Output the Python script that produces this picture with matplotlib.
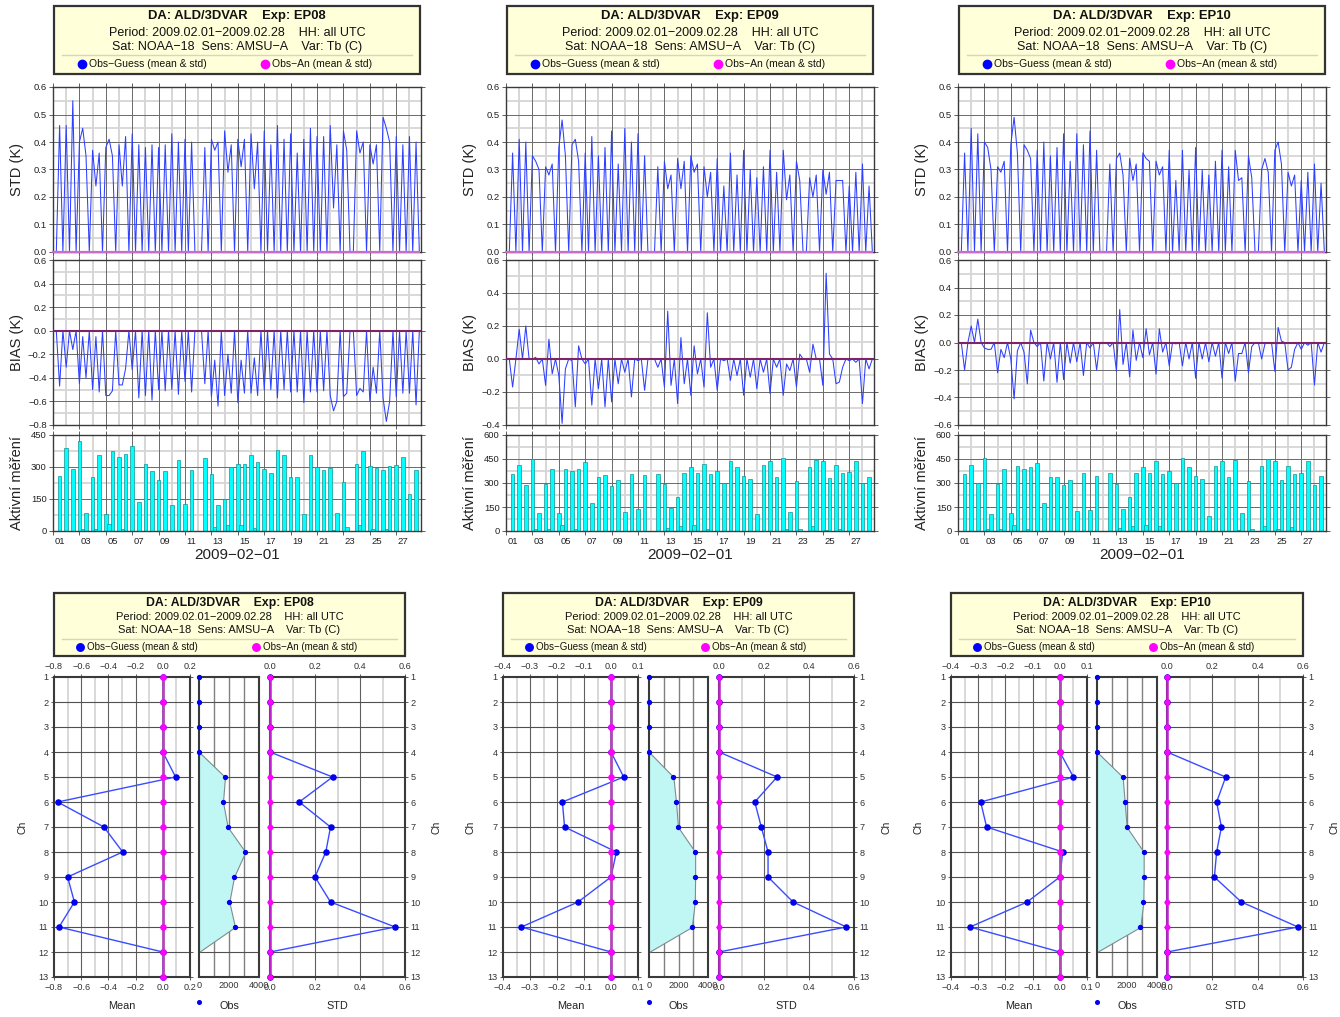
import numpy as np
import matplotlib
matplotlib.use('Agg')
import matplotlib.pyplot as plt
from matplotlib.patches import Rectangle
from matplotlib.lines import Line2D
from matplotlib.ticker import FuncFormatter

plt.rcParams['font.family'] = ['Liberation Sans', 'DejaVu Sans']

# ---------------------------------------------------------------- data
EXPERIMENTS = ['EP08', 'EP09', 'EP10']
# 6-hourly slots counted from 2009-02-01 00 UTC
MAIN_SLOTS = list(range(0, 112, 2))
OFF_SLOTS = [9, 13, 17, 21, 49, 53, 57, 61, 85, 89, 93, 97, 101]
DAY_LABELS = ['01', '03', '05', '07', '09', '11', '13', '15', '17', '19', '21', '23', '25', '27']

ep08_obs_main = [0, 260, 390, 290, 420, 85, 255, 355, 80, 375, 345,
                 360, 400, 135, 315, 280, 240, 280, 120, 335, 125, 285, 0,
                 340, 265, 120, 150, 300, 315, 315, 355, 325, 290,
                 270, 380, 355, 255, 255, 80, 355, 300, 285, 295, 85, 230, 0,
                 315, 375, 305, 295, 285, 305, 310, 345, 175, 285]
ep08_obs_off = [10, 10, 35, 10, 20, 30, 30, 15, 5, 20, 30, 10, 10]
ep08_std_main = [0, .46, .46, .55, .40, .35, .37, .36, .38, .35, .39,
                 .42, .43, .39, .38, .39, .38, .39, .43, .40, .41, .40, 0,
                 .38, .41, .40, .44, .39, .41, .41, .43, .40, .44,
                 .39, .46, .41, .43, .36, .41, .45, .42, .42, .46, .39, .44, 0,
                 .44, .40, .39, .39, .49, .40, .42, .39, .42, .40]
ep08_std_off = [.45, .24, .41, .24, .37, .29, .31, .23, .16, .37, .36, .32, .45]
ep08_bias_main = [0, -.47, -.31, -.16, -.45, -.40, -.50, -.52, -.55, -.51, -.46,
                  -.32, -.33, -.57, -.55, -.59, -.50, -.51, -.50, -.54, -.43, -.52, 0,
                  -.45, -.56, -.64, -.55, -.53, -.61, -.53, -.53, -.55, -.50,
                  -.50, -.57, -.50, -.52, -.52, -.61, -.52, -.52, -.51, -.55, -.60, -.56, 0,
                  -.55, -.52, -.60, -.53, -.57, -.60, -.56, -.53, -.53, -.63]
ep08_bias_off = [-.05, -.05, -.55, -.46, -.25, -.20, -.25, -.23, -.68, -.53, -.49, -.31, -.77]

ep09_obs_main = [0, 355, 410, 285, 450, 110, 295, 385, 115, 385, 375,
                 385, 430, 175, 340, 350, 280, 320, 120, 355, 140, 350, 0,
                 355, 295, 145, 215, 360, 400, 365, 420, 355, 375,
                 300, 440, 400, 345, 325, 105, 415, 435, 335, 455, 120, 310, 0,
                 400, 445, 435, 330, 410, 360, 370, 435, 300, 340]
ep09_obs_off = [10, 15, 35, 10, 20, 30, 35, 10, 10, 15, 30, 5, 15]
ep09_std_main = [0, .36, .41, .40, .35, .30, .31, .32, .38, .35, .39,
                 .33, .36, .42, .35, .38, .44, .32, .45, .40, .43, .35, 0,
                 .31, .33, .28, .34, .33, .35, .32, .31, .29, .34,
                 .24, .36, .28, .37, .30, .27, .31, .37, .29, .37, .28, .33, 0,
                 .27, .28, .30, .29, .26, .26, .24, .29, .32, .24]
ep09_std_off = [.33, .28, .48, .41, .23, .23, .29, .20, .19, .26, .20, .21, .26]
ep09_bias_main = [0, -.17, .18, .20, .00, -.03, -.16, -.09, -.10, -.06, -.01,
                  .08, -.03, -.28, -.18, -.29, -.26, -.15, -.08, -.23, -.01, -.19, 0,
                  -.05, -.17, -.16, -.27, -.15, -.22, -.09, -.17, -.05, -.19,
                  -.01, -.13, -.10, -.22, -.11, -.18, -.08, -.21, -.05, -.22, -.07, -.17, 0,
                  -.08, .00, -.16, .03, -.15, -.05, -.01, -.02, -.27, -.06]
ep09_bias_off = [.01, .12, -.39, -.29, .29, .13, .08, .28, -.03, .03, .09, .52, -.14]

ep10_obs_main = [0, 355, 410, 300, 455, 105, 295, 385, 115, 405, 385,
                 400, 425, 175, 340, 340, 285, 320, 125, 360, 130, 345, 0,
                 365, 295, 135, 210, 365, 400, 360, 435, 355, 375,
                 300, 455, 400, 345, 325, 95, 405, 435, 335, 445, 110, 310, 0,
                 405, 450, 435, 320, 405, 355, 365, 435, 290, 345]
ep10_obs_off = [10, 15, 35, 10, 20, 30, 35, 30, 5, 15, 30, 15, 25]
ep10_std_main = [0, .36, .45, .43, .40, .30, .31, .33, .39, .36, .39,
                 .34, .37, .40, .35, .38, .43, .33, .43, .39, .44, .37, 0,
                 .32, .34, .28, .34, .32, .36, .33, .33, .31, .37,
                 .26, .37, .30, .38, .30, .28, .33, .37, .31, .37, .27, .35, 0,
                 .30, .29, .37, .32, .29, .28, .26, .29, .32, .25]
ep10_std_off = [.38, .29, .49, .37, .36, .26, .34, .28, .26, .27, .34, .40, .24]
ep10_bias_main = [0, -.20, .12, .17, -.04, -.05, -.22, -.11, -.12, -.06, -.07,
                  .09, -.03, -.28, -.12, -.29, -.27, -.15, -.14, -.24, -.04, -.20, 0,
                  -.03, -.21, -.16, -.25, -.13, -.11, -.09, -.23, -.07, -.17,
                  -.01, -.17, -.12, -.26, -.12, -.14, -.10, -.26, -.08, -.28, -.08, -.22, 0,
                  -.12, .00, -.21, .01, -.20, -.05, -.05, -.02, -.31, -.07]
ep10_bias_off = [-.05, -.05, -.41, -.30, .24, .09, .10, .10, -.08, -.03, -.01, .11, -.18]

CHANNELS = list(range(1, 14))
ep08_mean_og = [0, 0, 0, 0, 0.094, -0.773, -0.433, -0.295, -0.700, -0.650, -0.763, 0, 0]
ep08_std_og = [0, 0, 0, 0, 0.278, 0.130, 0.269, 0.248, 0.200, 0.269, 0.556, 0, 0]
ep08_nobs = [0, 0, 0, 0, 1733, 1600, 1911, 3089, 2333, 2022, 2400, 0, 0]
ep09_mean_og = [0, 0, 0, 0, 0.047, -0.180, -0.172, 0.020, 0.000, -0.122, -0.332, 0, 0]
ep09_std_og = [0, 0, 0, 0, 0.258, 0.159, 0.188, 0.218, 0.218, 0.329, 0.566, 0, 0]
ep09_nobs = [0, 0, 0, 0, 1654, 1832, 1966, 3128, 3128, 3106, 2905, 0, 0]
ep10_mean_og = [0, 0, 0, 0, 0.050, -0.291, -0.269, 0.011, 0.000, -0.120, -0.330, 0, 0]
ep10_std_og = [0, 0, 0, 0, 0.259, 0.219, 0.240, 0.219, 0.209, 0.328, 0.578, 0, 0]
ep10_nobs = [0, 0, 0, 0, 1711, 1844, 1978, 3111, 3111, 3089, 2889, 0, 0]
mean_oa = [0.0] * 13
std_oa = [0.0] * 13

DATA = {
    'EP08': dict(obs=(ep08_obs_main, ep08_obs_off), std=(ep08_std_main, ep08_std_off),
                 bias=(ep08_bias_main, ep08_bias_off), mean_og=ep08_mean_og,
                 std_og=ep08_std_og, nobs=ep08_nobs),
    'EP09': dict(obs=(ep09_obs_main, ep09_obs_off), std=(ep09_std_main, ep09_std_off),
                 bias=(ep09_bias_main, ep09_bias_off), mean_og=ep09_mean_og,
                 std_og=ep09_std_og, nobs=ep09_nobs),
    'EP10': dict(obs=(ep10_obs_main, ep10_obs_off), std=(ep10_std_main, ep10_std_off),
                 bias=(ep10_bias_main, ep10_bias_off), mean_og=ep10_mean_og,
                 std_og=ep10_std_og, nobs=ep10_nobs),
}
BIAS_YLIM = {'EP08': (-0.8, 0.6), 'EP09': (-0.4, 0.6), 'EP10': (-0.6, 0.6)}
BAR_YLIM = {'EP08': 450, 'EP09': 600, 'EP10': 600}
MEAN_XLIM = {'EP08': (-0.8, 0.2, 0.2, 0.1), 'EP09': (-0.4, 0.1, 0.1, 0.05),
             'EP10': (-0.4, 0.1, 0.1, 0.05)}

# ---------------------------------------------------------------- layout
W, H = 1340, 1017
fig = plt.figure(figsize=(W / 100, H / 100), dpi=100)
fig.patch.set_facecolor('white')


def fx(x):
    return x / W


def fy(y):
    return 1 - y / H


def ax_px(x0, y0, x1, y1):
    return fig.add_axes([x0 / W, 1 - y1 / H, (x1 - x0) / W, (y1 - y0) / H])


def mfmt(fmt):
    def f(v, pos=None):
        s = fmt % v
        if s.startswith('-') and abs(float(s)) == 0:
            s = s[1:]
        return s.replace('-', '\u2212')
    return FuncFormatter(f)


DARK = '#6a6a6a'
LIGHT = '#d6d6d6'
SPINE = '#3a3a3a'
BLUE_LINE = '#2d3fff'
MINUS = '\u2212'


def style_spines(ax, lw=1.0):
    for s in ax.spines.values():
        s.set_color(SPINE)
        s.set_linewidth(lw)


def header(x0, x1, y0, y1, exp, ys, sizes, dots):
    rect = Rectangle((fx(x0), fy(y1)), (x1 - x0) / W, (y1 - y0) / H,
                     transform=fig.transFigure, facecolor='#ffffd9',
                     edgecolor='#333333', lw=1.6, zorder=1)
    fig.patches.append(rect)
    cx = (x0 + x1) / 2
    fig.text(fx(cx), fy(ys[0]), f'DA: ALD/3DVAR    Exp: {exp}', ha='center', va='center',
             fontsize=sizes[0], weight='bold', color='#111111')
    fig.text(fx(cx), fy(ys[1]), f'Period: 2009.02.01{MINUS}2009.02.28    HH: all UTC',
             ha='center', va='center', fontsize=sizes[1], color='#111111')
    fig.text(fx(cx), fy(ys[2]), f'Sat: NOAA{MINUS}18  Sens: AMSU{MINUS}A    Var: Tb (C)',
             ha='center', va='center', fontsize=sizes[1], color='#111111')
    fig.lines.append(Line2D([fx(x0 + 8), fx(x1 - 8)], [fy(ys[3])] * 2,
                            transform=fig.transFigure, color='#d6d6b8', lw=1.0))
    for dx, col, lab in [(dots[0], '#0000ff', f'Obs{MINUS}Guess (mean & std)'),
                         (dots[1], '#ff00ff', f'Obs{MINUS}An (mean & std)')]:
        fig.lines.append(Line2D([fx(x0 + dx)], [fy(ys[4])], transform=fig.transFigure,
                                marker='o', ms=sizes[3], color=col, ls='none'))
        fig.text(fx(x0 + dx + 7), fy(ys[4]), lab, ha='left', va='center',
                 fontsize=sizes[2], color='#111111')


def ts_grid(ax, lo, hi, major, minor):
    for d in range(0, 28):
        if d % 2 == 0:
            ax.axvline(d, color=DARK, lw=0.7, zorder=0.6)
        else:
            ax.axvline(d, color=LIGHT, lw=1.4, zorder=0.5)
    n = int(round((hi - lo) / minor))
    for i in range(n + 1):
        v = lo + i * minor
        if abs(v / major - round(v / major)) < 1e-6:
            ax.axhline(v, color=DARK, lw=0.7, zorder=0.6)
        else:
            ax.axhline(v, color=LIGHT, lw=1.3, zorder=0.5)


TOP_COLS = {'EP08': (53, 421), 'EP09': (506, 874), 'EP10': (958, 1326)}
STD_Y = (87, 252)
BIAS_Y = (260, 425)
BAR_Y = (435, 531)
XMAX = 27.875
t = np.arange(112) / 4.0


def series(main, off):
    a = np.zeros(112)
    a[MAIN_SLOTS] = main
    a[OFF_SLOTS] = off
    return a


for exp in EXPERIMENTS:
    x0, x1 = TOP_COLS[exp]
    d = DATA[exp]
    header(x0 + 1, x1 - 1, 5.5, 74, exp, (16.5, 32.5, 47, 54.5, 64), (9.4, 9.0, 7.5, 6.0),
           (28, 211))
    std = series(*d['std'])
    bias = series(*d['bias'])
    obs = series(*d['obs'])

    # STD panel
    ax = ax_px(x0, STD_Y[0], x1, STD_Y[1])
    ts_grid(ax, 0, 0.6, 0.1, 0.05)
    ax.plot(t, std, color=BLUE_LINE, lw=0.75, zorder=2)
    ax.plot(t, np.zeros_like(t), color='#c86ec8', lw=1.6, zorder=3, clip_on=False)
    ax.set_ylim(0, 0.6)
    ax.set_yticks(np.arange(0, 0.61, 0.1))
    ax.yaxis.set_major_formatter(mfmt('%.1f'))
    # BIAS panel
    axb = ax_px(x0, BIAS_Y[0], x1, BIAS_Y[1])
    lo, hi = BIAS_YLIM[exp]
    ts_grid(axb, lo, hi, 0.2, 0.1)
    axb.plot(t, bias, color=BLUE_LINE, lw=0.75, zorder=2)
    axb.axhline(0, color='#7c2466', lw=1.5, zorder=3)
    axb.set_ylim(lo, hi)
    axb.set_yticks(np.arange(lo, hi + 0.01, 0.2))
    axb.yaxis.set_major_formatter(mfmt('%.1f'))
    # bars panel
    axc = ax_px(x0, BAR_Y[0], x1, BAR_Y[1])
    top = BAR_YLIM[exp]
    ts_grid(axc, 0, top, 150, 75)
    m = obs > 0
    axc.bar(t[m], obs[m], width=0.27, color='#00ffff', edgecolor='#1a8f8f', lw=0.5,
            zorder=2, align='center')
    axc.set_ylim(0, top)
    axc.set_yticks(np.arange(0, top + 1, 150))
    axc.yaxis.set_major_formatter(mfmt('%d'))
    axc.set_xticks(np.arange(0.5, 27, 2), minor=True)
    axc.set_xticklabels(DAY_LABELS, minor=True)
    axc.tick_params(axis='x', which='minor', length=0, labelsize=6.8, pad=4,
                    labelcolor='#222222')

    for a in (ax, axb, axc):
        a.set_xlim(0, XMAX)
        a.set_xticks(np.arange(0, 28, 2))
        a.set_xticklabels([])
        a.tick_params(axis='both', which='major', direction='out', length=3, width=0.6,
                      color='#444444', labelsize=6.8, labelcolor='#222222',
                      top=True, right=True, pad=1.5)
        style_spines(a, 1.0)

    yl = x0 - 36
    fig.text(fx(yl), fy(sum(STD_Y) / 2), 'STD (K)', rotation=90, ha='center', va='center',
             fontsize=10.5, color='#222222')
    fig.text(fx(yl), fy(sum(BIAS_Y) / 2), 'BIAS (K)', rotation=90, ha='center', va='center',
             fontsize=10.5, color='#222222')
    fig.text(fx(yl), fy(sum(BAR_Y) / 2), 'Aktivní měření', rotation=90, ha='center',
             va='center', fontsize=10.5, color='#222222')
    fig.text(fx((x0 + x1) / 2), fy(555), f'2009{MINUS}02{MINUS}01', ha='center', va='center',
             fontsize=11, color='#222222')

# ---------------------------------------------------------------- channel profiles
BOT_Y = (677, 977)
BOT_COLS = {
    'EP08': dict(mean=(54, 190), obs=(199, 259), std=(270, 405), head=(54, 405)),
    'EP09': dict(mean=(503, 638), obs=(649, 708), std=(719, 854), head=(503, 854)),
    'EP10': dict(mean=(951, 1087), obs=(1097, 1157), std=(1167, 1303), head=(951, 1303)),
}
CH = np.array(CHANNELS)


def ch_grid(ax, lo, hi, major, minor):
    n = int(round((hi - lo) / minor))
    for i in range(1, n):
        v = lo + i * minor
        if abs(v / major - round(v / major)) < 1e-6:
            ax.axvline(v, color='#606060', lw=0.8, zorder=0.6)
        else:
            ax.axvline(v, color=LIGHT, lw=1.3, zorder=0.5)
    for c in range(2, 13):
        ax.axhline(c, color='#505050', lw=0.8, zorder=0.6)


def ch_axes_common(ax):
    ax.set_ylim(13, 1)
    ax.set_yticks(CHANNELS)
    style_spines(ax, 1.5)


for exp in EXPERIMENTS:
    c = BOT_COLS[exp]
    d = DATA[exp]
    hx0, hx1 = c['head']
    header(hx0, hx1, 593, 656, exp, (603, 616.5, 630, 638.5, 646.5), (8.8, 8.0, 7.0, 5.4),
           (26, 202))
    # mean panel
    lo, hi, maj, mnr = MEAN_XLIM[exp]
    ax = ax_px(c['mean'][0], BOT_Y[0], c['mean'][1], BOT_Y[1])
    ch_grid(ax, lo, hi, maj, mnr)
    ax.plot(d['mean_og'], CH, color='#3a4cff', lw=1.0, zorder=3)
    ax.plot(d['mean_og'], CH, 'o', color='#0000ee', ms=3.7, zorder=4, clip_on=False)
    ax.plot(mean_oa, CH, color='#b04ab4', lw=2.0, zorder=5)
    ax.plot(mean_oa, CH, 'o', color='#ff00ff', ms=3.7, zorder=6, clip_on=False)
    ax.set_xlim(lo, hi)
    ax.set_xticks(np.arange(lo, hi + 1e-6, maj))
    ax.xaxis.set_major_formatter(mfmt('%.1f'))
    ch_axes_common(ax)
    ax.tick_params(axis='both', direction='out', length=2.5, width=0.6, color='#444444',
                   labelsize=6.6, labelcolor='#333333', top=True, labeltop=True,
                   right=True, pad=1.5)
    # obs panel
    axo = ax_px(c['obs'][0], BOT_Y[0], c['obs'][1], BOT_Y[1])
    for v in (1000, 2000, 3000):
        axo.axvline(v, color='#808080', lw=1.0, zorder=0.6)
    for ch in range(2, 13):
        axo.axhline(ch, color='#505050', lw=0.8, zorder=0.6)
    nobs = np.array(d['nobs'], dtype=float)
    axo.fill_betweenx(CH[3:12], 0, nobs[3:12], facecolor='#c0f7f4', edgecolor='#7d8c8c',
                      lw=0.8, zorder=2)
    axo.plot(nobs[:11], CH[:11], 'o', color='#0000ee', ms=2.8, zorder=4, clip_on=False)
    axo.set_xlim(0, 4000)
    axo.set_xticks([0, 2000, 4000])
    axo.xaxis.set_major_formatter(mfmt('%d'))
    ch_axes_common(axo)
    axo.tick_params(axis='x', direction='out', length=0, labelsize=6.6,
                    labelcolor='#333333', pad=3)
    axo.tick_params(axis='y', length=0, labelleft=False)
    # std panel
    axs = ax_px(c['std'][0], BOT_Y[0], c['std'][1], BOT_Y[1])
    ch_grid(axs, 0, 0.6, 0.2, 0.1)
    axs.plot(d['std_og'], CH, color='#3a4cff', lw=1.0, zorder=3)
    axs.plot(d['std_og'], CH, 'o', color='#0000ee', ms=3.7, zorder=4, clip_on=False)
    axs.plot(std_oa, CH, color='#c020d0', lw=1.8, zorder=5, clip_on=False)
    axs.plot(std_oa, CH, 'o', color='#ff00ff', ms=3.2, zorder=6, clip_on=False)
    axs.set_xlim(0, 0.6)
    axs.set_xticks(np.arange(0, 0.61, 0.2))
    axs.xaxis.set_major_formatter(mfmt('%.1f'))
    ch_axes_common(axs)
    axs.yaxis.tick_right()
    axs.tick_params(axis='both', direction='out', length=2.5, width=0.6, color='#444444',
                    labelsize=6.6, labelcolor='#333333', top=True, labeltop=True,
                    left=True, right=True, labelright=True, labelleft=False, pad=1.5)

    mx = sum(c['mean']) / 2
    sx = sum(c['std']) / 2
    ox = sum(c['obs']) / 2
    fig.text(fx(mx), fy(1006), 'Mean', ha='center', va='center', fontsize=7.8, color='#222222')
    fig.text(fx(sx), fy(1006), 'STD', ha='center', va='center', fontsize=7.8, color='#222222')
    fig.text(fx(ox), fy(1006), 'Obs', ha='center', va='center', fontsize=7.8, color='#222222')
    fig.lines.append(Line2D([fx(c['obs'][0])], [fy(1002)], transform=fig.transFigure,
                            marker='o', ms=2.6, color='#0000ee', ls='none'))
    cy = sum(BOT_Y) / 2
    fig.text(fx(c['mean'][0] - 32), fy(cy), 'Ch', rotation=90, ha='center', va='center',
             fontsize=7.5, color='#222222')
    fig.text(fx(c['std'][1] + 32), fy(cy), 'Ch', rotation=90, ha='center', va='center',
             fontsize=7.5, color='#222222')

fig.savefig('out.png', dpi=100, facecolor='white')
